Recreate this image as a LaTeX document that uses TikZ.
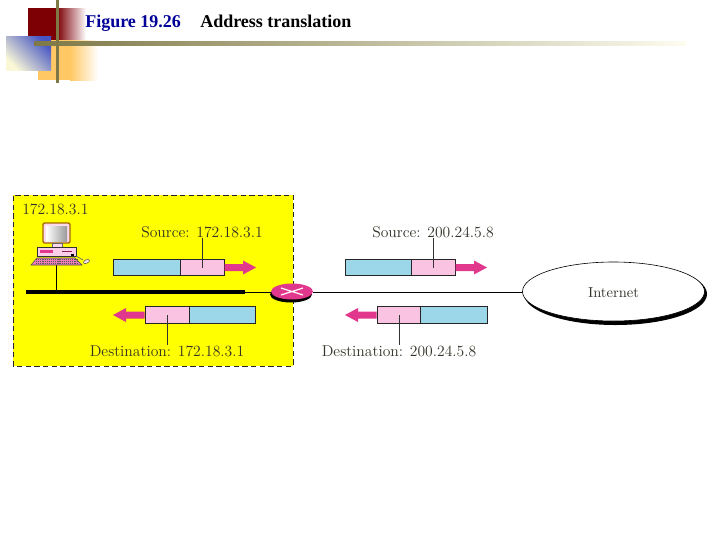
\documentclass[tikz,border=0pt]{standalone}
\usepackage{fontspec}
\setmainfont{Latin Modern Roman}
\newfontfamily\titlefont{Liberation Serif}[Scale=1.0]
\usetikzlibrary{arrows.meta,calc,shapes.geometric}
\definecolor{darkred}{RGB}{125,0,5}
\definecolor{olivebar}{RGB}{125,120,70}
\definecolor{paleyel}{RGB}{250,248,215}
\definecolor{blueq}{RGB}{70,85,195}
\definecolor{orangeq}{RGB}{255,200,100}
\definecolor{titleblue}{RGB}{0,0,153}
\definecolor{cyanp}{RGB}{155,215,232}
\definecolor{pinkp}{RGB}{250,195,225}
\definecolor{magp}{RGB}{225,55,140}
\definecolor{yelbg}{RGB}{255,255,0}
\definecolor{txt}{RGB}{50,50,40}
\tikzset{
  titletext/.style={font=\titlefont\bfseries\fontsize{13.5}{15}\selectfont,anchor=base west,inner sep=0pt},
  lbl/.style={font=\fontsize{11.7}{13}\selectfont,text=txt,inner sep=0pt,anchor=base},
  cyancell/.style={draw=black!85,line width=0.7pt,fill=cyanp,minimum height=12.6pt,inner sep=0pt,anchor=west},
  pinkcell/.style={draw=black!85,line width=0.7pt,fill=pinkp,minimum height=12.6pt,inner sep=0pt,anchor=west},
  lead/.style={draw=black!80,line width=0.5pt},
  wire/.style={draw=black,line width=0.65pt},
}
\newcommand{\rarrowshape}[2]{% tail point, length px
  \fill[magp] ($(#1)+(0,-3.5)$) -- ++(#2-13,0) -- ++(0,-3.5) -- ++(13,7) -- ++(-13,7) -- ++(0,-3.5) -- ++(-#2+13,0) -- cycle;}
\newcommand{\larrowshape}[2]{%
  \fill[magp] ($(#1)+(0,-3.5)$) -- ++(-#2+13,0) -- ++(0,-3.5) -- ++(-13,7) -- ++(13,7) -- ++(0,-3.5) -- ++(#2-13,0) -- cycle;}
\begin{document}
\begin{tikzpicture}[x=0.75pt,y=-0.75pt]
\useasboundingbox (0,0) rectangle (720,540);
\fill[white] (0,0) rectangle (720,540);
% corner decoration
\fill[darkred] (28,8) rectangle (57,40);
\shade[left color=darkred,right color=white] (57,8) rectangle (86,40);
\fill[orangeq] (38,40) rectangle (70,80);
\shade[left color=orangeq,right color=white] (70,40) rectangle (98,80);
\shade[top color=blueq,bottom color=paleyel,shading angle=-45] (6,36) rectangle (51,70);
\shade[left color=olivebar,right color=paleyel!40] (34,41.5) rectangle (686,45);
\fill[olivebar] (55.7,0) rectangle (58.7,83);
\node[titletext,text=titleblue] (figno) at (85,27) {Figure 19.26};
\node[titletext,text=black] (figtitle) at (200,27) {Address translation};
% yellow site
\fill[yelbg] (13,195) rectangle (293,366);
\draw[black!85,line width=0.6pt,dash pattern=on 4pt off 2.5pt] (13,366) -- (13,195) -- (293,195) -- (293,366) -- cycle;
% network
\coordinate (busL) at (26,292);
\coordinate (busR) at (245,292);
\coordinate (stub) at (56,292);
\coordinate (pcfoot) at (56,265);
\node[ellipse,minimum width=31.5pt,minimum height=12pt,inner sep=0pt] (router) at (292,292) {};
\node[ellipse,minimum width=136.5pt,minimum height=43.5pt,inner sep=0pt] (inet) at (614,292) {};
\draw[line width=3pt,black] (busL) -- (busR);
\draw[wire] (busR) -- (router);
\draw[wire] (router) -- (inet);
\draw[wire] (stub) -- (pcfoot);
% router
\fill[black] (291,294.5) ellipse (21 and 8);
\fill[magp] (292,291.5) ellipse (21 and 8);
\draw[white!90!pink,line width=0.9pt] (281,288) -- (303,295) (281,295) -- (303,288);
% internet
\fill[black] (615.5,294) ellipse (91.5 and 31);
\fill[white] (613.5,291.5) ellipse (91 and 29.5);
\draw[black,line width=0.45pt] (613.5,291.5) ellipse (91 and 29.5);
\node[font=\fontsize{10.9}{12}\selectfont,text=txt,inner sep=0pt] (inettext) at (613.5,293) {Internet};
% computer
\fill[rounded corners=1pt,fill=pinkp!60!white,draw=black!60!red!60!yelbg,line width=1pt] (43,223) rectangle (70,243);
\shade[left color=white,right color=black!40] (46,226) rectangle (67,241);
\fill[pinkp!70!white,draw=black!60,line width=0.4pt] (52,243) rectangle (62,247.5);
\fill[pinkp!80!white,draw=black!80,line width=0.5pt] (37,247.5) rectangle (76,256.5);
\fill[magp] (40,250) rectangle (53,253);
\fill[black] (71,253.5) rectangle (74,256);
\draw[magp!60!black,line width=0.5pt] (62,251) -- (72,251);
\fill[magp!50!pinkp,draw=black!70,line width=0.4pt] (37,258) -- (75,258) -- (82,265) -- (31,265) -- cycle;
\foreach \yy in {259.7,261.5,263.3}{\draw[black!65,line width=0.45pt,dash pattern=on 0.9pt off 0.7pt] (36,\yy) -- (78,\yy);}
\draw[black!60,line width=0.5pt] (76,256) -- (83,260);
\draw[black!70,fill=pinkp!40!white,line width=0.4pt,rotate around={25:(86.5,261.5)}] (86.5,261.5) ellipse (3.2 and 1.7);
% packets
\foreach \nm/\xa/\xb/\xc/\yy in {a/113/180/224/267.5,c/345/411/455/267.5}{
  \pgfmathsetmacro{\wa}{(\xb-\xa)*0.75}\pgfmathsetmacro{\wb}{(\xc-\xb)*0.75}
  \node[cyancell,minimum width=\wa pt] (\nm cy) at (\xa,\yy) {};
  \node[pinkcell,minimum width=\wb pt] (\nm pk) at (\xb,\yy) {};
}
\foreach \nm/\xa/\xb/\xc/\yy in {b/145/189/255/315,d/377/420/487/315}{
  \pgfmathsetmacro{\wa}{(\xb-\xa)*0.75}\pgfmathsetmacro{\wb}{(\xc-\xb)*0.75}
  \node[pinkcell,minimum width=\wa pt] (\nm pk) at (\xa,\yy) {};
  \node[cyancell,minimum width=\wb pt] (\nm cy) at (\xb,\yy) {};
}
\rarrowshape{224.5,267.5}{31.5}
\rarrowshape{455.5,267.5}{31.5}
\larrowshape{144.5,315}{31.5}
\larrowshape{376.5,315}{31.5}
% labels
\node[lbl] (sa) at (202,237) {Source: 172.18.3.1};
\node[lbl] (sc) at (433,237) {Source: 200.24.5.8};
\node[lbl] (db) at (167,356) {Destination: 172.18.3.1};
\node[lbl] (dd) at (399,356) {Destination: 200.24.5.8};
\node[lbl,anchor=base west] (host) at (22,214) {172.18.3.1};
\draw[lead] (sa.south -| apk) -- (apk.center);
\draw[lead] (sc.south -| cpk) -- (cpk.center);
\draw[lead] (bpk.center) -- (db.north -| bpk);
\draw[lead] (dpk.center) -- (dd.north -| dpk);
\end{tikzpicture}
\end{document}
